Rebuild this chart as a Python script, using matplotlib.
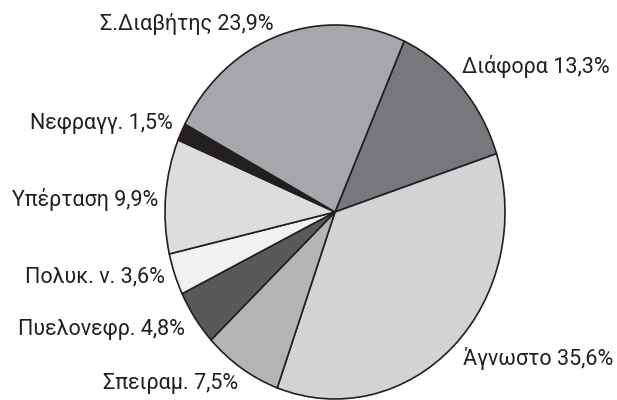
import matplotlib.pyplot as plt

# data
categories = ["Διάφορα", "Άγνωστο", "Σπειραμ.", "Πυελονεφρ.", "Πολυκ. ν.",
              "Υπέρταση", "Νεφραγγ.", "Σ.Διαβήτης"]
shares = [13.3, 35.6, 7.5, 4.8, 3.6, 9.9, 1.5, 23.9]
shade = ["#77787b", "#d2d3d5", "#b3b4b6", "#58595b", "#f1f1f2",
         "#dcdddf", "#231f20", "#a6a7aa"]

# label anchor in pixels (x, y from top, horizontal alignment)
label_px = [(462, 67, "left"), (463, 358, "left"), (238, 383, "right"),
            (185, 330, "right"), (165, 277, "right"), (158, 199, "right"),
            (173, 124, "right"), (273, 24, "right")]

W, H = 617, 400
fig = plt.figure(figsize=(W / 100, H / 100), dpi=100)
# pie is slightly taller than wide in the original
ax = fig.add_axes([165 / W, 1 / H, 340 / W, 374 / H])
ax.pie(shares, colors=shade, startangle=66, counterclock=False,
       wedgeprops=dict(edgecolor="#231f20", linewidth=1.2))
ax.set_aspect("auto")
ax.set_xlim(-1, 1)
ax.set_ylim(-1, 1)
ax.axis("off")

for name, val, (px, py, ha) in zip(categories, shares, label_px):
    txt = f"{name} {str(val).replace('.', ',')}%"
    fig.text(px / W, 1 - py / H, txt, ha=ha, va="center", fontsize=15.5,
             family="Roboto", color="#231f20")

fig.savefig("out.png", dpi=100)
